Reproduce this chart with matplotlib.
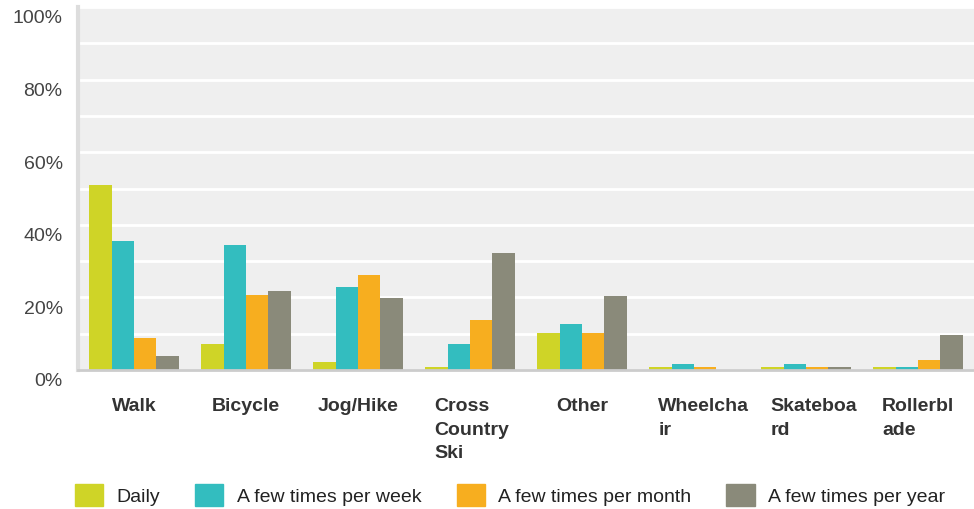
import matplotlib.pyplot as plt
import numpy as np
from matplotlib.patches import Patch
from matplotlib.transforms import ScaledTranslation

plt.rcParams['font.family'] = ['Liberation Sans', 'DejaVu Sans']

# Activity categories and share of respondents per frequency (%)
categories = ["Walk", "Bicycle", "Jog/Hike", "Cross\nCountry\nSki", "Other",
              "Wheelcha\nir", "Skateboa\nrd", "Rollerbl\nade"]
series_names = ["Daily", "A few times per week", "A few times per month", "A few times per year"]
daily = [50.9, 7.1, 2.2, 0.9, 10.2, 0.9, 0.9, 0.9]
week = [35.4, 34.3, 22.9, 7.1, 12.7, 1.7, 1.7, 0.9]
month = [8.8, 20.7, 26.3, 13.8, 10.2, 0.9, 0.9, 2.7]
year = [3.8, 21.8, 19.9, 32.3, 20.5, 0.0, 0.9, 9.7]
yticks = [0, 20, 40, 60, 80, 100]

colors = ["#cfd427", "#33bdbf", "#f7ae1f", "#8a8a7a"]

fig = plt.figure(figsize=(9.74, 5.10), dpi=100)
ax = fig.add_axes([78 / 974, 139 / 510, 896 / 974, 363 / 510])
ax.set_facecolor("#efefef")

x = np.arange(len(categories))
w = 0.2
for k, vals in enumerate([daily, week, month, year]):
    ax.bar(x - 0.3 + k * w, vals, width=w, color=colors[k], zorder=3)

ax.set_xlim(-0.5, len(categories) - 0.5)
ax.set_ylim(0, 100)
ax.set_yticks(yticks)
ax.set_yticklabels([f"{v}%" for v in yticks], fontsize=14, color="#444444")
ax.set_yticks(np.arange(10, 100, 10), minor=True)
ax.grid(axis="y", which="both", color="white", linewidth=2, zorder=1)
ax.tick_params(axis="both", which="both", length=0)
ax.tick_params(axis="y", pad=11)
ax.set_xticks([])

# shift y labels a little below their gridlines
for lab in ax.get_yticklabels():
    lab.set_transform(lab.get_transform() + ScaledTranslation(0, -9 / 100, fig.dpi_scale_trans))

for s in ["top", "right"]:
    ax.spines[s].set_visible(False)
ax.spines["left"].set_color("#dddddd")
ax.spines["left"].set_linewidth(3)
ax.spines["bottom"].set_color("#cccccc")
ax.spines["bottom"].set_linewidth(2)
ax.spines["bottom"].set_zorder(4)

# category labels: short ones centred, wrapped ones left-aligned in a box
for i, name in enumerate(categories):
    if "\n" in name:
        ax.text(i - 0.32, -7.5, name, ha="left", va="top", fontsize=14,
                fontweight="bold", color="#333333", linespacing=1.5)
    else:
        ax.text(i, -7.5, name, ha="center", va="top", fontsize=14,
                fontweight="bold", color="#333333", linespacing=1.5)

handles = [Patch(facecolor=c, edgecolor=c) for c in colors]
fig.legend(handles, series_names, loc="center", bbox_to_anchor=(510 / 974, 14 / 510),
           ncol=4, frameon=False, fontsize=14, handlelength=1.45, handleheight=1.4,
           handletextpad=0.7, columnspacing=1.8, labelcolor="#222222")

fig.savefig("out.png", dpi=100)
